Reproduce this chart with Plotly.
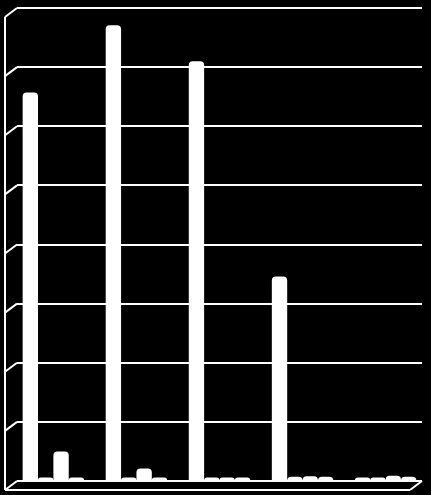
import plotly.graph_objects as go

# values (axis units 0..8)
categories = ["Category 1", "Category 2", "Category 3", "Category 4", "Category 5"]
series_names = ["Series 1", "Series 2", "Series 3", "Series 4"]
series1 = [6.57, 7.71, 7.10, 3.46, 0.06]
series2 = [0.06, 0.06, 0.06, 0.07, 0.06]
series3 = [0.50, 0.21, 0.06, 0.08, 0.09]
series4 = [0.06, 0.06, 0.06, 0.07, 0.07]
y_ticks = [0, 1, 2, 3, 4, 5, 6, 7, 8]

W, H = 431, 495
left, right, top, bottom = 17, 9, 8, 14
plot_w = W - left - right
plot_h = H - top - bottom
# fake 3d depth of the left wall / floor, in pixels
dx, dy = 12, 9
px = dx / plot_w
py = dy / plot_h

fig = go.Figure()
for name, vals in zip(series_names, [series1, series2, series3, series4]):
    fig.add_trace(go.Bar(
        x=categories, y=vals, name=name,
        marker=dict(color="white", line=dict(width=0), cornerradius=4),
    ))

line = dict(color="white", width=2)
shapes = []
# left wall edge
shapes.append(dict(type="line", xref="paper", yref="paper",
                   x0=-px, x1=-px, y0=-py, y1=1 - py, line=line))
# diagonals joining each gridline to the left wall
ymax = y_ticks[-1]
for v in y_ticks:
    shapes.append(dict(type="line", xref="paper", yref="paper",
                       x0=-px, y0=v / ymax - py, x1=0, y1=v / ymax, line=line))
# top line and back edge of the floor (plotly skips grid at the range ends)
for yy in (0, 1):
    shapes.append(dict(type="line", xref="paper", yref="paper", layer="below",
                       x0=0, x1=1, y0=yy, y1=yy, line=line))
# front edge of the floor
shapes.append(dict(type="line", xref="paper", yref="paper",
                   x0=-px, y0=-py, x1=1 - px, y1=-py, line=line))
shapes.append(dict(type="line", xref="paper", yref="paper",
                   x0=1 - px, y0=-py, x1=1, y1=0, line=line))

fig.update_layout(
    width=W, height=H,
    margin=dict(l=left, r=right, t=top, b=bottom),
    paper_bgcolor="black", plot_bgcolor="black",
    barmode="group", bargap=0.26, bargroupgap=0,
    showlegend=False,
    shapes=shapes,
    font=dict(family="Liberation Sans", color="black"),
)
fig.update_xaxes(range=[-0.438, len(categories) - 0.562], showticklabels=False,
                 showgrid=False, zeroline=False, showline=False)
fig.update_yaxes(range=[0, ymax], tickvals=y_ticks, showticklabels=False,
                 showgrid=True, gridcolor="white", gridwidth=2,
                 zeroline=False, showline=False)

# page has a default 8px body margin; drop it so the figure sits at 0,0
fig.write_html("out.html", config={"displayModeBar": False},
               post_script="document.body.style.margin='0';")
